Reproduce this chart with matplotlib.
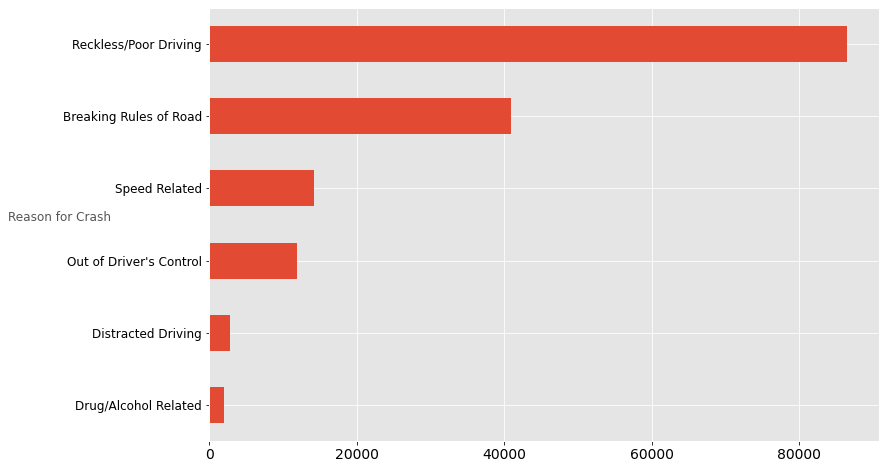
import matplotlib
matplotlib.use("Agg")
import matplotlib.pyplot as plt

plt.style.use("ggplot")

# crash counts by reason (bottom to top)
reasons = ["Drug/Alcohol Related", "Distracted Driving", "Out of Driver's Control",
           "Speed Related", "Breaking Rules of Road", "Reckless/Poor Driving"]
counts = [2000, 2800, 11900, 14200, 40900, 86500]

fig = plt.figure(figsize=(885/72, 470/72), dpi=72)
ax = fig.add_axes([209/885, 29/470, 670/885, 433/470])
ax.barh(reasons, counts, height=0.5, color="#E24A33")
ax.tick_params(axis="y", labelsize=12, colors="black")
ax.tick_params(axis="x", labelsize=14, colors="black")
ax.set_ylabel("Reason for Crash", rotation=0, fontsize=12, color="#555555")
ax.yaxis.set_label_coords(-0.223, 0.5)
ax.set_ylim(-0.5, 5.5)

fig.savefig("out.png")
